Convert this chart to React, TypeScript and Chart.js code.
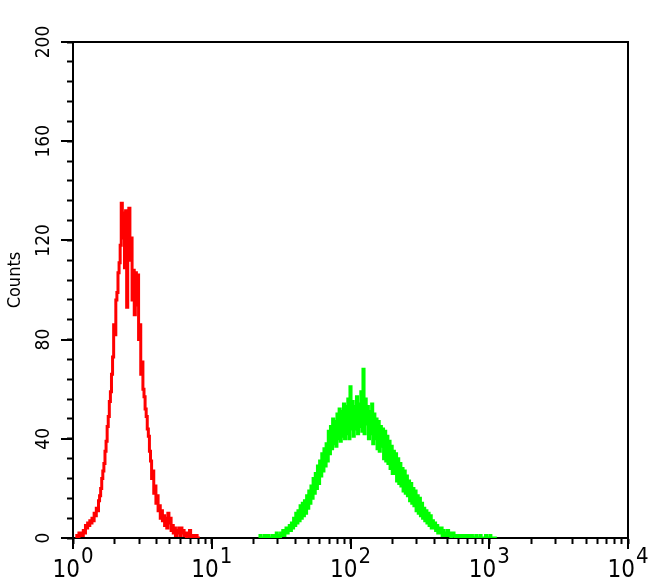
import React, { useEffect, useRef } from 'react';
import { Chart, registerables } from 'chart.js';

Chart.register(...registerables);

// ---- data (flow cytometry histogram, 512 channels over 4 log decades) ----
const CHANNELS_PER_DECADE = 128;

const redStartChannel = 3;
const redCounts = [
  0, 1, 0, 2, 1, 2, 1, 3, 2, 5,
  4, 6, 5, 7, 6, 8, 7, 10, 9, 12,
  11, 15, 17, 20, 24, 27, 30, 35, 39, 45,
  49, 55, 59, 66, 73, 86, 82, 96, 99, 107,
  111, 118, 135, 121, 131, 109, 132, 93, 127, 133,
  112, 121, 96, 108, 90, 107, 94, 106, 80, 86,
  66, 71, 60, 57, 52, 49, 44, 41, 35, 31,
  24, 27, 18, 21, 14, 17, 11, 13, 8, 11,
  7, 9, 5, 8, 4, 10, 6, 8, 3, 5,
  2, 4, 1, 3, 2, 4, 1, 4, 2, 3,
  1, 2, 0, 2, 1, 3, 0, 1, 0, 1,
  0, 1, 0, 0, 0,
];

const greenStartChannel = 172;
const greenCounts = [
  0, 1, 0, 0, 0, 1, 0, 0, 1, 0,
  0, 0, 1, 0, 1, 0, 2, 0, 1, 0,
  2, 1, 3, 1, 2, 4, 2, 3, 5, 3,
  6, 4, 8, 5, 10, 6, 11, 7, 13, 8,
  14, 9, 15, 10, 17, 12, 19, 14, 21, 16,
  24, 18, 26, 20, 29, 22, 31, 25, 34, 27,
  36, 29, 38, 31, 43, 34, 45, 36, 48, 38,
  47, 37, 50, 40, 52, 39, 51, 41, 54, 40,
  53, 42, 56, 40, 61, 44, 55, 41, 53, 44,
  57, 42, 54, 45, 59, 43, 68, 42, 56, 46,
  53, 40, 51, 42, 54, 38, 50, 40, 48, 36,
  47, 35, 45, 37, 44, 32, 43, 31, 41, 30,
  39, 28, 37, 26, 35, 26, 34, 23, 32, 22,
  30, 21, 28, 19, 27, 18, 25, 17, 23, 15,
  22, 14, 20, 13, 19, 11, 17, 10, 16, 9,
  14, 8, 12, 7, 11, 6, 10, 5, 9, 4,
  7, 4, 6, 3, 5, 2, 4, 2, 4, 1,
  3, 1, 2, 1, 3, 1, 2, 0, 1, 2,
  1, 0, 1, 0, 1, 1, 0, 1, 0, 0,
  1, 0, 0, 1, 0, 0, 1, 0, 0, 0,
  1, 0, 0, 0, 1, 0, 0, 0, 0, 1,
  0, 0, 0, 1, 0, 0, 0, 0, 0, 0,
];

// ---- axes ----
const xDecades = [0, 1, 2, 3, 4];
const xMinorMultipliers = [1, 2, 3, 4, 5, 6, 7, 8, 9];
const yMin = 0;
const yMax = 200;
const yTickStep = 8;
const yLabelStep = 40;
const yTitle = 'Counts';

const FONT = "'Liberation Sans Narrow', 'DejaVu Sans Condensed', 'Liberation Sans', Arial, sans-serif";

const xTickValues: number[] = [];
xDecades.slice(0, -1).forEach((e) => xMinorMultipliers.forEach((m) => xTickValues.push(m * Math.pow(10, e))));
xTickValues.push(Math.pow(10, xDecades[xDecades.length - 1]));

const yTickValues: number[] = [];
for (let v = yMin; v <= yMax; v += yTickStep) yTickValues.push(v);

const toPoints = (start: number, counts: number[]) =>
  counts.map((c, i) => ({ x: Math.pow(10, (start + i) / CHANNELS_PER_DECADE), y: c }));

const decorPlugin = {
  id: 'decor',
  afterDraw(chart: any) {
    const { ctx, chartArea: a, scales } = chart;
    const xs = scales.x;
    const ys = scales.y;
    ctx.save();
    ctx.strokeStyle = '#000';
    ctx.lineWidth = 2;
    ctx.beginPath();
    // top and right frame
    ctx.moveTo(a.left - 1, a.top);
    ctx.lineTo(a.right, a.top);
    ctx.lineTo(a.right, a.bottom + 1);
    // longer major ticks
    xDecades.forEach((e) => {
      const px = Math.round(xs.getPixelForValue(Math.pow(10, e)));
      ctx.moveTo(px, a.bottom);
      ctx.lineTo(px, a.bottom + 11);
    });
    yTickValues.filter((v) => v % yLabelStep === 0).forEach((v) => {
      const py = Math.round(ys.getPixelForValue(v));
      ctx.moveTo(a.left, py);
      ctx.lineTo(a.left - 12, py);
    });
    ctx.stroke();
    // x labels: 10 with superscript exponent
    ctx.fillStyle = '#000';
    ctx.textBaseline = 'alphabetic';
    ctx.textAlign = 'left';
    xDecades.forEach((e) => {
      const px = xs.getPixelForValue(Math.pow(10, e));
      ctx.font = `24px ${FONT}`;
      const w1 = ctx.measureText('10').width;
      ctx.font = `22px ${FONT}`;
      const w2 = ctx.measureText(String(e)).width;
      const start = px - (w1 + w2 + 1) / 2;
      ctx.font = `24px ${FONT}`;
      ctx.fillText('10', start, a.bottom + 39);
      ctx.font = `22px ${FONT}`;
      ctx.fillText(String(e), start + w1 + 1, a.bottom + 25);
    });
    // y axis title
    ctx.save();
    ctx.translate(15, ys.getPixelForValue(104));
    ctx.rotate(-Math.PI / 2);
    ctx.textAlign = 'center';
    ctx.textBaseline = 'middle';
    ctx.font = `18px ${FONT}`;
    ctx.fillText(yTitle, 0, 0);
    ctx.restore();
    ctx.restore();
  },
};

export default function App() {
  const ref = useRef<HTMLCanvasElement | null>(null);

  useEffect(() => {
    document.body.style.margin = '0';
    const canvas = ref.current;
    if (!canvas) return;
    const gridOpts = {
      drawOnChartArea: false,
      drawTicks: true,
      tickLength: 6,
      tickWidth: 2,
      tickColor: '#000',
    };
    const chart = new Chart(canvas, {
      type: 'line',
      data: {
        datasets: [
          {
            data: toPoints(redStartChannel, redCounts),
            borderColor: '#ff0000',
            borderWidth: 3,
            pointRadius: 0,
            stepped: 'middle',
            fill: false,
          },
          {
            data: toPoints(greenStartChannel, greenCounts),
            borderColor: '#00ff00',
            borderWidth: 3,
            pointRadius: 0,
            stepped: 'middle',
            fill: false,
          },
        ],
      },
      options: {
        animation: false,
        responsive: false,
        parsing: false,
        layout: { padding: { top: 42, right: 22, left: 0, bottom: 0 } },
        plugins: { legend: { display: false }, tooltip: { enabled: false } },
        scales: {
          x: {
            type: 'logarithmic',
            min: 1,
            max: 10000,
            afterBuildTicks: (s: any) => {
              s.ticks = xTickValues.map((v) => ({ value: v }));
            },
            afterFit: (s: any) => {
              s.height = 47;
            },
            ticks: { display: false, autoSkip: false },
            grid: gridOpts,
            border: { display: true, color: '#000', width: 2 },
          },
          y: {
            type: 'linear',
            min: yMin,
            max: yMax,
            afterBuildTicks: (s: any) => {
              s.ticks = yTickValues.map((v) => ({ value: v }));
            },
            afterFit: (s: any) => {
              s.width = 73;
            },
            ticks: {
              autoSkip: false,
              minRotation: 90,
              maxRotation: 90,
              crossAlign: 'center',
              padding: 7,
              color: '#000',
              font: { family: FONT, size: 19 },
              callback: (v: any) => (Number(v) % yLabelStep === 0 ? String(v) : ''),
            },
            grid: gridOpts,
            border: { display: true, color: '#000', width: 2 },
          },
        },
      } as any,
      plugins: [decorPlugin],
    });
    return () => chart.destroy();
  }, []);

  return (
    <div style={{ width: 650, height: 585, background: '#fff' }}>
      <canvas ref={ref} width={650} height={585} />
    </div>
  );
}
